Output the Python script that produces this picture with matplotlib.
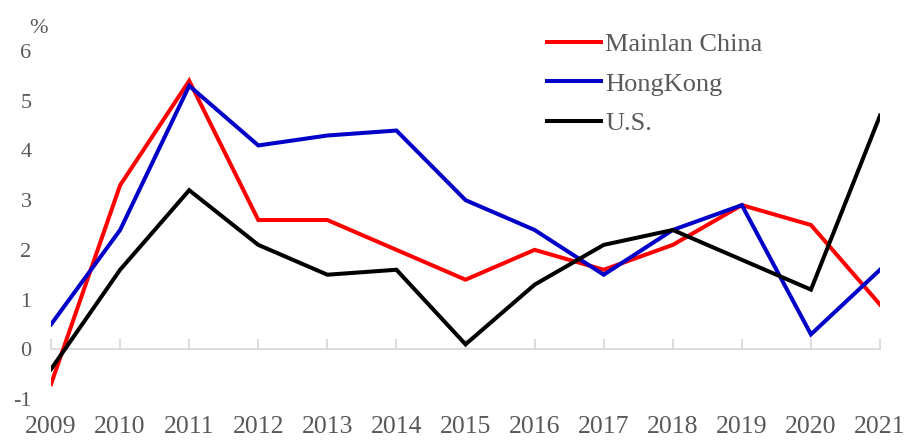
import matplotlib
matplotlib.use("Agg")
import matplotlib.pyplot as plt

years = list(range(2009, 2022))
mainland = [-0.7, 3.3, 5.4, 2.6, 2.6, 2.0, 1.4, 2.0, 1.6, 2.1, 2.9, 2.5, 0.9]
hongkong = [0.5, 2.4, 5.3, 4.1, 4.3, 4.4, 3.0, 2.4, 1.5, 2.4, 2.9, 0.3, 1.6]
us = [-0.4, 1.6, 3.2, 2.1, 1.5, 1.6, 0.1, 1.3, 2.1, 2.4, 1.8, 1.2, 4.7]
series_names = ["Mainlan China", "HongKong", "U.S."]

plt.rcParams["font.family"] = ["Liberation Serif", "DejaVu Serif"]
plt.rcParams["axes.unicode_minus"] = False
txt = "#595959"

fig = plt.figure(figsize=(9.05, 4.41), dpi=100)
ax = fig.add_axes([0.0564, 0.0952, 0.916, 0.7892])

lw = 2.9
ax.plot(years, mainland, color="#ff0000", lw=lw, label=series_names[0], solid_joinstyle="miter")
ax.plot(years, hongkong, color="#0000c8", lw=lw, label=series_names[1], solid_joinstyle="miter")
ax.plot(years, us, color="#000000", lw=lw, label=series_names[2], solid_joinstyle="miter")

ax.set_xlim(2009, 2021)
ax.set_ylim(-1, 6)
ax.set_xticks(years)
ax.set_yticks(range(-1, 7))

for s in ["top", "right", "left"]:
    ax.spines[s].set_visible(False)
ax.spines["bottom"].set_position(("data", 0))
ax.spines["bottom"].set_color("#d9d9d9")
ax.spines["bottom"].set_linewidth(1.3)
ax.spines["bottom"].set_zorder(0)

ax.tick_params(axis="x", direction="in", length=7, width=1.3, color="#d9d9d9",
               pad=48, labelsize=18.5, labelcolor=txt)
ax.tick_params(axis="y", length=0, pad=14, labelsize=16, labelcolor=txt)

fig.text(0.042, 0.935, "%", fontsize=16, color=txt, ha="center", va="center")

leg = ax.legend(loc="upper left", bbox_to_anchor=(0.570, 1.122), frameon=False,
                fontsize=19, handlelength=2.05, handletextpad=0.15, labelspacing=0.62)
for t in leg.get_texts():
    t.set_color(txt)

fig.savefig("out.png", dpi=100)
